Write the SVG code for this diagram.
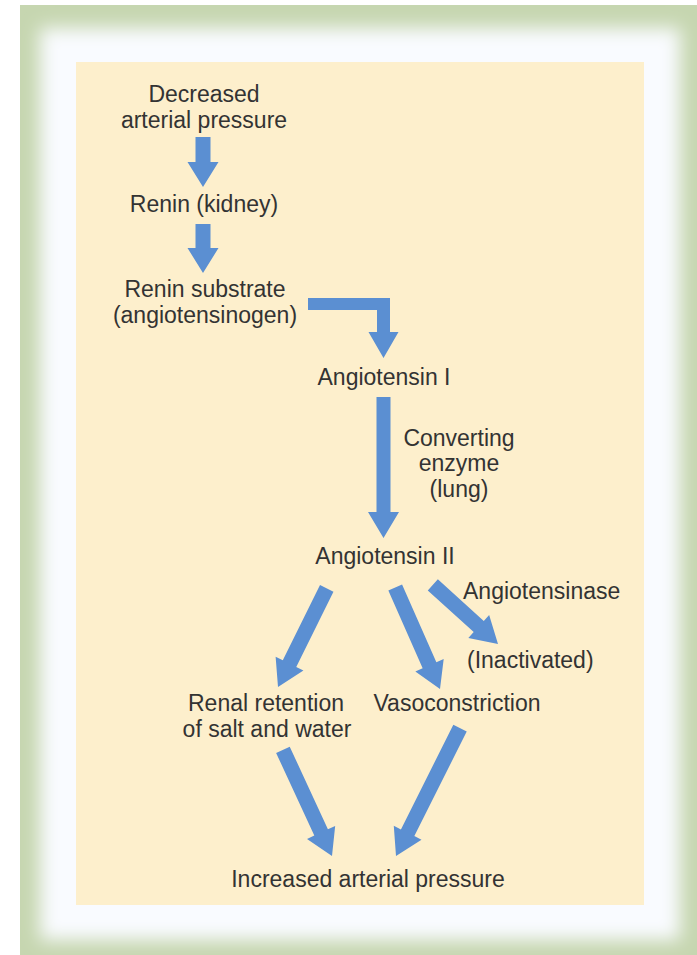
<svg xmlns="http://www.w3.org/2000/svg" width="697" height="955" viewBox="0 0 697 955">
  <defs>
    <filter id="soft" filterUnits="userSpaceOnUse" x="0" y="0" width="697" height="955">
      <feGaussianBlur stdDeviation="9"/>
    </filter>
  </defs>
  <style>
    text { font-family: "Liberation Sans", Arial, sans-serif; font-size: 23px; fill: #333333; }
    .c { text-anchor: middle; }
    .arrow { fill: #5b8fd2; }
  </style>
  <rect x="0" y="0" width="697" height="955" fill="#ffffff"/>
  <rect x="20" y="5" width="677" height="950" fill="#c6d6b0"/>
  <rect x="40" y="28" width="640" height="912" fill="#f9fbff" filter="url(#soft)"/>
  <rect x="76" y="62" width="568" height="843" fill="#fdefcc"/>

  <g id="connectors">
    <!-- vertical arrows: tip-origin, pointing +y -->
    <path class="arrow" d="M-7.5,-50 H7.5 V-25 H15.5 L0,0 L-15.5,-25 H-7.5 Z" transform="translate(203,187)"/>
    <path class="arrow" d="M-7.5,-49 H7.5 V-25 H15.5 L0,0 L-15.5,-25 H-7.5 Z" transform="translate(203,273)"/>
    <path class="arrow" d="M308,298 H390 V332 H398.5 L383.5,358 L368.5,332 H377 V310 H308 Z"/>
    <path class="arrow" d="M-7,-141 H7 V-26 H15.5 L0,0 L-15.5,-26 H-7 Z" transform="translate(383.5,538)"/>
    <!-- diagonal arrows from Angiotensin II -->
    <path class="arrow" d="M-7.5,-110 H7.5 V-26 H15.5 L0,0 L-15.5,-26 H-7.5 Z" transform="translate(278,687) rotate(26.3)"/>
    <path class="arrow" d="M-7.5,-111 H7.5 V-26 H15.5 L0,0 L-15.5,-26 H-7.5 Z" transform="translate(440,689) rotate(-23.8)"/>
    <path class="arrow" d="M-7.5,-88 H7.5 V-26 H15.5 L0,0 L-15.5,-26 H-7.5 Z" transform="translate(498,644) rotate(-47.8)"/>
    <!-- bottom arrows -->
    <path class="arrow" d="M-7.5,-117 H7.5 V-26 H15.5 L0,0 L-15.5,-26 H-7.5 Z" transform="translate(332,856) rotate(-24.8)"/>
    <path class="arrow" d="M-7.5,-143 H7.5 V-26 H15.5 L0,0 L-15.5,-26 H-7.5 Z" transform="translate(396,856) rotate(26.6)"/>
  </g>

  <g id="decreased">
    <text class="c" x="204" y="102">Decreased</text>
    <text class="c" x="204" y="128">arterial pressure</text>
  </g>
  <g id="renin">
    <text class="c" x="204" y="212">Renin (kidney)</text>
  </g>
  <g id="substrate">
    <text class="c" x="205" y="297">Renin substrate</text>
    <text class="c" x="205" y="323">(angiotensinogen)</text>
  </g>
  <g id="angiotensin1">
    <text class="c" x="384" y="385">Angiotensin I</text>
  </g>
  <g id="converting">
    <text class="c" x="459" y="446">Converting</text>
    <text class="c" x="459" y="471">enzyme</text>
    <text class="c" x="459" y="497">(lung)</text>
  </g>
  <g id="angiotensin2">
    <text class="c" x="385" y="564">Angiotensin II</text>
  </g>
  <g id="angiotensinase">
    <text x="463" y="599">Angiotensinase</text>
  </g>
  <g id="inactivated">
    <text x="467" y="668">(Inactivated)</text>
  </g>
  <g id="renal">
    <text class="c" x="266" y="711">Renal retention</text>
    <text class="c" x="267" y="737">of salt and water</text>
  </g>
  <g id="vasoconstriction">
    <text class="c" x="457" y="711">Vasoconstriction</text>
  </g>
  <g id="increased">
    <text class="c" x="368" y="887">Increased arterial pressure</text>
  </g>
</svg>
